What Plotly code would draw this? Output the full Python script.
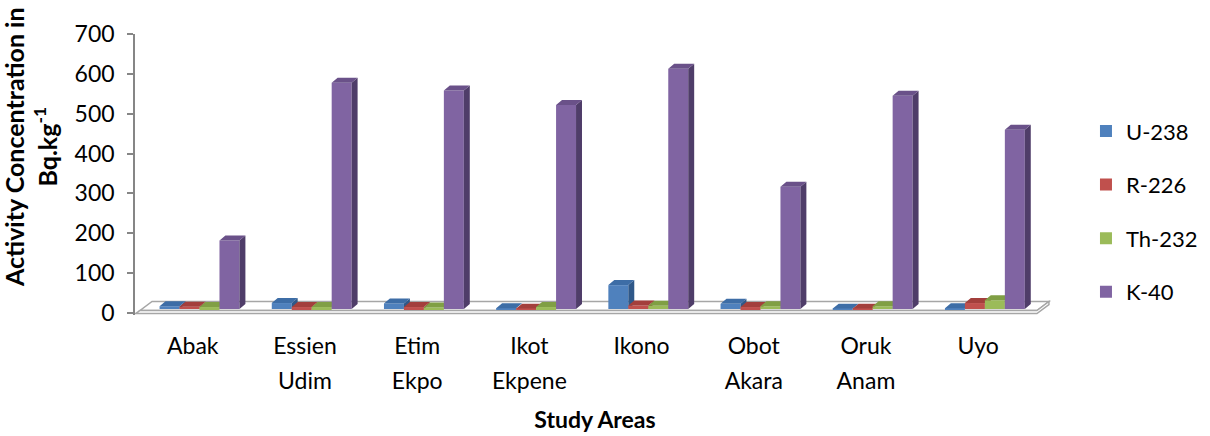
import plotly.graph_objects as go

# Study areas (two-line labels) and measured activity concentrations (Bq/kg)
area_line1 = ["Abak", "Essien", "Etim", "Ikot", "Ikono", "Obot", "Oruk", "Uyo"]
area_line2 = ["", "Udim", "Ekpo", "Ekpene", "", "Akara", "Anam", ""]
u238 = [7, 15, 14, 2, 60, 13, 1, 2]
r226 = [6, 5, 5, 1, 9, 5, 1, 15]
th232 = [5, 5, 4, 5, 8, 7, 7, 22]
k40 = [172, 568, 548, 512, 603, 307, 535, 450]

series_names = ["U-238", "R-226", "Th-232", "K-40"]
series_values = [u238, r226, th232, k40]
# (front, side, top) shades for each series
series_colors = [
    ("#4F81BD", "#2F5889", "#3D6DA6"),
    ("#C0504D", "#8C3331", "#A33F3C"),
    ("#9BBB59", "#6E8A39", "#809F44"),
    ("#8064A2", "#4F3D69", "#6A5189"),
]

FONT = "Lato, 'Open Sans', sans-serif"

# 3-D extrusion geometry in axis units
bar_w = 0.178          # width of one column
shift = 0.06           # cluster offset from the category tick
base = 10              # columns stand on the floor slab
dx, dy = 0.053, 12.5   # column depth vector
fdx, fdy = 0.107, 22.6 # floor depth vector
x_range = [-0.515, 7.685]
y_range = [-5, 700]
cats = list(range(len(area_line1)))
line2_pos = [i for i, t in enumerate(area_line2) if t]
line2_txt = [area_line2[i] for i in line2_pos]

fig = go.Figure()

for s, (name, vals) in enumerate(zip(series_names, series_values)):
    front, side, top = series_colors[s]
    suffix = "" if s == 0 else str(s + 1)
    xa, ya = "x" + suffix, "y" + suffix
    xs = [i + shift + (s - 1.5) * bar_w for i in range(len(vals))]

    fig.add_trace(go.Bar(
        x=xs, y=vals, base=[base] * len(vals), width=bar_w,
        marker=dict(color=front, line=dict(width=0)),
        name=name, legendgroup=name, xaxis=xa, yaxis=ya,
    ))

    side_x, side_y, top_x, top_y = [], [], [], []
    for xc, v in zip(xs, vals):
        xl, xr = xc - bar_w / 2, xc + bar_w / 2
        y0, y1 = base, base + v
        side_x += [xr, xr + dx, xr + dx, xr, xr, None]
        side_y += [y0, y0 + dy, y1 + dy, y1, y0, None]
        top_x += [xl, xr, xr + dx, xl + dx, xl, None]
        top_y += [y1, y1, y1 + dy, y1 + dy, y1, None]

    fig.add_trace(go.Scatter(
        x=side_x, y=side_y, fill="toself", fillcolor=side, mode="lines",
        line=dict(width=0, color=side), hoverinfo="skip", showlegend=False,
        xaxis=xa, yaxis=ya,
    ))
    fig.add_trace(go.Scatter(
        x=top_x, y=top_y, fill="toself", fillcolor=top, mode="lines",
        line=dict(width=0, color=top), hoverinfo="skip", showlegend=False,
        xaxis=xa, yaxis=ya,
    ))

# Empty trace that binds the second label row axis to the plot
fig.add_trace(go.Scatter(x=[], y=[], xaxis="x5", yaxis="y",
                         showlegend=False, hoverinfo="skip"))

# Floor slab (top face and front edge)
fl, fr = -0.47, 7.524
f_top, f_bot = 6.3, -1.3
fig.add_shape(type="path", xref="x", yref="y", layer="below",
              path=f"M {fl},{f_top} L {fr},{f_top} L {fr + fdx},{f_top + fdy} "
                   f"L {fl + fdx},{f_top + fdy} Z",
              fillcolor="white", line=dict(color="#A6A6A6", width=1.5))
fig.add_shape(type="path", xref="x", yref="y", layer="below",
              path=f"M {fl},{f_top} L {fr},{f_top} L {fr + fdx},{f_top + fdy} "
                   f"L {fr + fdx},{f_bot + fdy} L {fr},{f_bot} L {fl - 0.04},{f_bot} Z",
              fillcolor="white", line=dict(color="#A6A6A6", width=1.5))

layout = dict(
    width=1210, height=436,
    margin=dict(l=135, r=155, t=34, b=121, autoexpand=False),
    paper_bgcolor="white", plot_bgcolor="white",
    font=dict(family=FONT, size=22, color="#000000"),
    showlegend=True,
    legend=dict(xref="container", x=0.8975, y=0.729, xanchor="left", yanchor="top",
                font=dict(size=22), tracegroupgap=22, bgcolor="rgba(0,0,0,0)"),
    xaxis=dict(range=x_range, tickvals=cats, ticktext=area_line1,
               showline=False, showgrid=False, zeroline=False, ticks="",
               tickfont=dict(size=23), ticklabelstandoff=15, automargin=False),
    # second line of the category labels and the axis title
    xaxis5=dict(range=x_range, overlaying="x", anchor="y", side="bottom",
                tickvals=line2_pos, ticktext=line2_txt,
                showline=False, showgrid=False, zeroline=False, ticks="",
                tickfont=dict(size=23), ticklabelstandoff=50, automargin=False,
                title=dict(text="<b>Study Areas</b>", font=dict(size=23), standoff=18)),
    yaxis=dict(range=y_range, tickvals=list(range(0, 701, 100)),
               showline=True, linecolor="#868686", linewidth=1.5,
               ticks="outside", ticklen=6, tickcolor="#868686", tickwidth=1.5,
               showgrid=False, zeroline=False, tickfont=dict(size=23),
               ticklabelstandoff=8, automargin=False),
    annotations=[dict(
        text="<b>Activity Concentration in<br>Bq.kg<sup>-1</sup></b>",
        textangle=-90, xref="paper", yref="paper", x=-0.113, y=0.598,
        xanchor="center", yanchor="middle", showarrow=False,
        font=dict(size=25), align="center",
    )],
)
for k in range(2, 5):
    layout[f"xaxis{k}"] = dict(range=x_range, overlaying="x", visible=False)
    layout[f"yaxis{k}"] = dict(range=y_range, overlaying="y", visible=False)

fig.update_layout(**layout)
fig.write_html("out.html")
